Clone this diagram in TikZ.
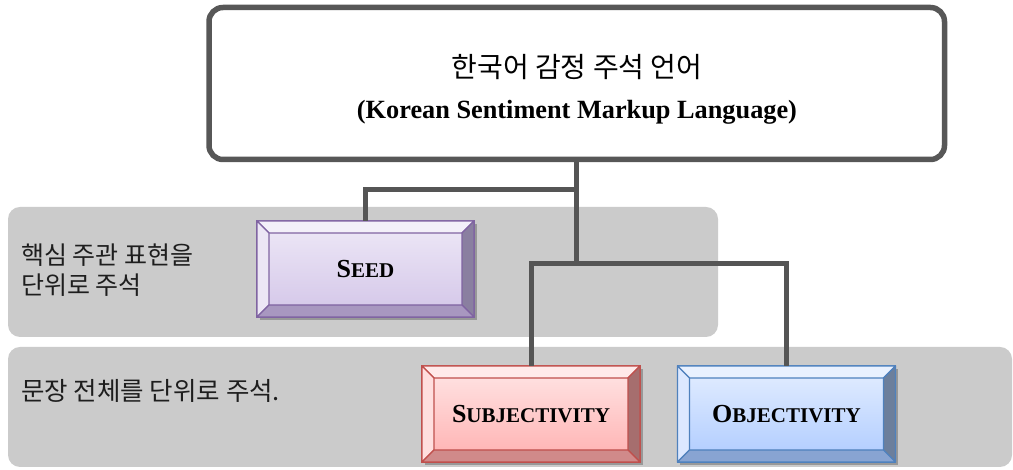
\documentclass[tikz,border=0pt]{standalone}
\usepackage{fontspec}
\setmainfont{Liberation Serif}
\newfontfamily\kr{Noto Sans CJK KR}
\usetikzlibrary{calc,shadows}
\definecolor{bandgray}{HTML}{CBCBCB}
\definecolor{conngray}{HTML}{555555}
\definecolor{boxgray}{HTML}{575757}
\definecolor{labeltext}{HTML}{1E1E1E}
% purple
\definecolor{pBorder}{HTML}{8064A2}
\definecolor{pTopC}{HTML}{EEE9F7}
\definecolor{pBotC}{HTML}{D3C5E8}
\definecolor{pTopB}{HTML}{F3F0F9}
\definecolor{pLeftB}{HTML}{ECE6F5}
\definecolor{pRightB}{HTML}{8A7FA0}
\definecolor{pBotB}{HTML}{A897C0}
% red
\definecolor{rBorder}{HTML}{C0504D}
\definecolor{rTopC}{HTML}{FFE6E6}
\definecolor{rBotC}{HTML}{FFB0B0}
\definecolor{rTopB}{HTML}{FFEAEA}
\definecolor{rLeftB}{HTML}{FFDEDE}
\definecolor{rRightB}{HTML}{A66E6E}
\definecolor{rBotB}{HTML}{D08A8A}
% blue
\definecolor{bBorder}{HTML}{4F81BD}
\definecolor{bTopC}{HTML}{E4EEFF}
\definecolor{bBotC}{HTML}{AECBFF}
\definecolor{bTopB}{HTML}{E9F1FF}
\definecolor{bLeftB}{HTML}{DCE8FF}
\definecolor{bRightB}{HTML}{6C7F9C}
\definecolor{bBotB}{HTML}{88A4D2}
\newcommand\sco[2]{{\fontsize{26}{26}\selectfont #1}{\fontsize{21}{21}\selectfont #2}}
\newcommand\bevelfaces[6]{%
  \filldraw[fill=#3, draw=#2, line width=1.3pt, line join=round] (#1.north west) -- (#1.north east) -- ($(#1.north east)+(-12,-12)$) -- ($(#1.north west)+(12,-12)$) -- cycle;
  \filldraw[fill=#4, draw=#2, line width=1.3pt, line join=round] (#1.north west) -- ($(#1.north west)+(12,-12)$) -- ($(#1.south west)+(12,12)$) -- (#1.south west) -- cycle;
  \filldraw[fill=#5, draw=#2, line width=1.3pt, line join=round] (#1.north east) -- (#1.south east) -- ($(#1.south east)+(-12,12)$) -- ($(#1.north east)+(-12,-12)$) -- cycle;
  \filldraw[fill=#6, draw=#2, line width=1.3pt, line join=round] (#1.south west) -- (#1.south east) -- ($(#1.south east)+(-12,12)$) -- ($(#1.south west)+(12,12)$) -- cycle;
}
\begin{document}
\begin{tikzpicture}[x=1pt,y=1pt,
  band/.style={fill=bandgray, rounded corners=12pt},
  conn/.style={line width=5pt, draw=conngray},
  beveled/.style={minimum width=218pt, minimum height=96pt, inner sep=0pt, outer sep=0pt,
    line width=1.5pt, font=\bfseries,
    drop shadow={shadow xshift=2.5pt, shadow yshift=-3.5pt, opacity=0.25, fill=black}},
  sidelabel/.style={anchor=west, align=left, inner sep=0pt, text=labeltext}
]
\useasboundingbox (0,0) rectangle (1013,470);
% bands
\fill[band] (8,133) rectangle (718,263);
\fill[band] (8,3) rectangle (1012,123);
% top box
\node[draw=boxgray, line width=5.5pt, rounded corners=14pt, fill=white,
  minimum width=735.5pt, minimum height=152pt] (top) at (576.75,386.5) {};
\node[align=center, inner sep=0pt, font=\bfseries\fontsize{26.3}{41}\selectfont] (title) at (577,381)
  {{\kr\mdseries\fontsize{28}{41}\selectfont 한국어 감정 주석 언어}\\(Korean Sentiment Markup Language)};
% side labels
\node[sidelabel, font=\kr\fontsize{25}{30}\selectfont] (l1) at (21,200) {핵심 주관 표현을\\단위로 주석};
\node[sidelabel, font=\kr\fontsize{25.5}{28}\selectfont] (l2) at (21,79) {문장 전체를 단위로 주석.};
% beveled boxes
\node[beveled, minimum width=217pt, top color=pTopC, bottom color=pBotC, draw=pBorder] (seed) at (365.5,201) {\sco{S}{EED}};
\bevelfaces{seed}{pBorder}{pTopB}{pLeftB}{pRightB}{pBotB}
\node[beveled, top color=rTopC, bottom color=rBotC, draw=rBorder] (subj) at (531,56) {\sco{S}{UBJECTIVITY}};
\bevelfaces{subj}{rBorder}{rTopB}{rLeftB}{rRightB}{rBotB}
\node[beveled, top color=bTopC, bottom color=bBotC, draw=bBorder] (obj) at (786.5,56) {\sco{O}{BJECTIVITY}};
\bevelfaces{obj}{bBorder}{bTopB}{bLeftB}{bRightB}{bBotB}
% connectors
\coordinate (j1) at (576.75,280);
\coordinate (j2) at (576.75,206.5);
\draw[conn] (top.south) -- (j2);
\draw[conn] (j1) -| (seed.north);
\draw[conn] (subj.north) |- (j2) -| (obj.north);
\end{tikzpicture}
\end{document}
